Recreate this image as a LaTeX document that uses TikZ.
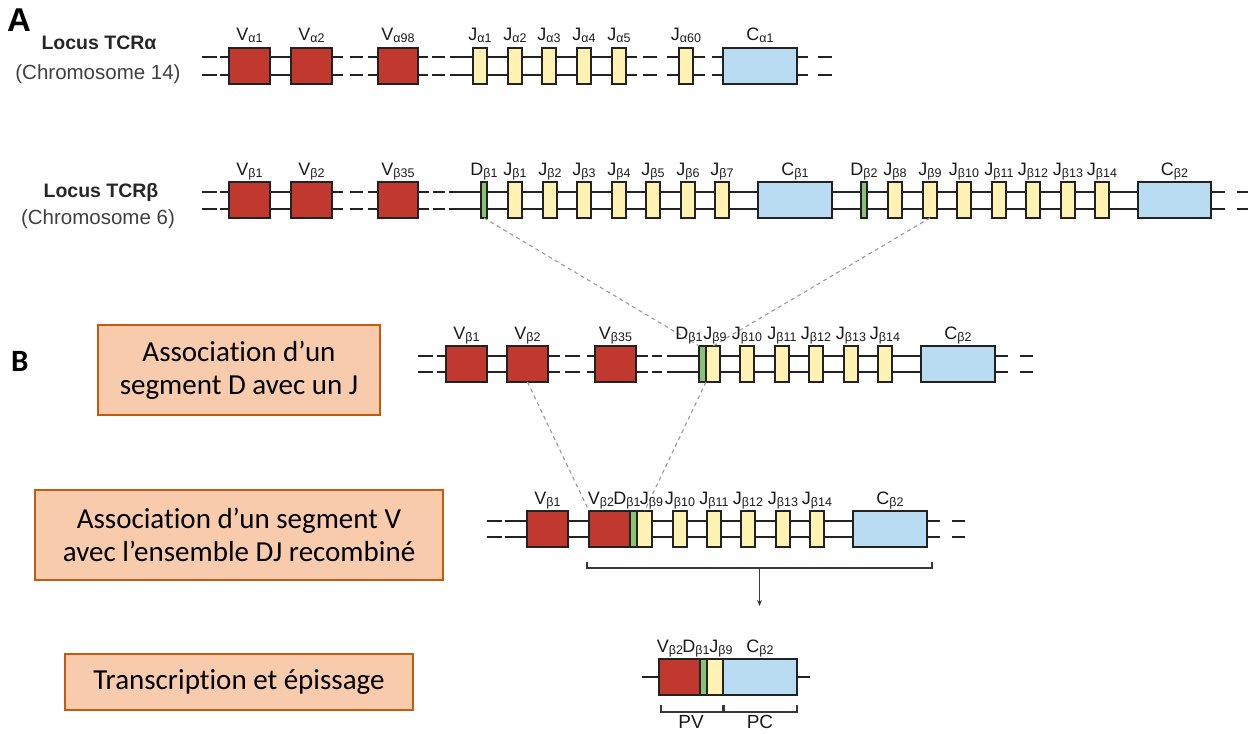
\documentclass[tikz,border=0pt]{standalone}
\usepackage{fontspec}
\setmainfont{Liberation Sans}
\newfontfamily\calibri[Ligatures=NoCommon]{Carlito}
\newfontfamily\arialf{Liberation Sans}
\usetikzlibrary{arrows.meta}
\definecolor{gred}{HTML}{C1382F}
\definecolor{gyel}{HTML}{FFF2B2}
\definecolor{gblu}{HTML}{B9DCF2}
\definecolor{ggrn}{HTML}{88C27A}
\definecolor{dna}{HTML}{222222}
\definecolor{oboxfill}{HTML}{F8CBAD}
\definecolor{oboxdraw}{HTML}{C55A11}
\definecolor{txt}{HTML}{1A1A1A}
\newcommand\subf{\fontsize{12.5}{13}\selectfont}
\newcommand\gb[6]{\node[gene,#6,minimum width={(#3)-(#2)},minimum height={(#5)-(#4)}] (#1) at ({((#2)+(#3))/2},{((#4)+(#5))/2}) {};}
\newcommand\gl[5]{\node[glab] (#1) at (#2,#3) {#4\raisebox{-2pt}{\subf #5}};}
\newcommand\seg[4]{\draw[dnaline] (#1,#3) -- (#2,#3) (#1,#4) -- (#2,#4);}
\begin{document}
\begin{tikzpicture}[x=1pt,y=-1pt,
  gene/.style={draw=dna,line width=1.2pt,inner sep=0pt,outer sep=0pt},
  red/.style={fill=gred},
  yel/.style={fill=gyel},
  blu/.style={fill=gblu},
  grn/.style={fill=ggrn},
  glab/.style={anchor=base,inner sep=0pt,text=txt,font=\fontsize{18}{20}\selectfont},
  dnaline/.style={draw=dna,line width=2.7pt},
  conn/.style={draw=gray!80,line width=1.1pt,dash pattern=on 4pt off 3.5pt},
  obox/.style={draw=oboxdraw,line width=1.8pt,fill=oboxfill,align=center,inner sep=0pt,
    font=\calibri\fontsize{29}{33}\selectfont},
  title/.style={anchor=base,inner sep=0pt,text=txt},
  brk/.style={draw=dna!90,line width=1.1pt}
]
\useasboundingbox (0,0) rectangle (1260,733);

% ---------- DNA lines ----------
% row A
\seg{202}{217}{57}{75}\seg{220}{343}{57}{75}\seg{350}{363}{57}{75}\seg{368}{428}{57}{75}
\seg{432}{445}{57}{75}\seg{450}{637}{57}{75}\seg{643}{657}{57}{75}\seg{667}{705}{57}{75}
\seg{712}{808}{57}{75}\seg{818}{832}{57}{75}
% row beta
\seg{202}{217}{192}{209}\seg{220}{343}{192}{209}\seg{350}{363}{192}{209}\seg{368}{429}{192}{209}
\seg{433}{445}{192}{209}\seg{449}{1225}{192}{209}\seg{1237}{1248}{192}{209}
% middle row
\seg{418}{433}{356}{372}\seg{437}{560}{356}{372}\seg{565}{580}{356}{372}\seg{587}{648}{356}{372}
\seg{652}{662}{356}{372}\seg{667}{1008}{356}{372}\seg{1020}{1033}{356}{372}
% bottom row
\seg{487}{502}{521}{537}\seg{505}{940}{521}{537}\seg{952}{965}{521}{537}
% final
\draw[dnaline] (642,677) -- (810,677);

% ---------- genes row A ----------
\gb{aV1}{229}{270}{48}{84}{red}\gb{aV2}{291}{332}{48}{84}{red}\gb{aV98}{378}{418}{48}{84}{red}
\gb{aJ1}{473}{487}{48}{84}{yel}\gb{aJ2}{508}{522}{48}{84}{yel}\gb{aJ3}{542}{556}{48}{84}{yel}
\gb{aJ4}{577}{591}{48}{84}{yel}\gb{aJ5}{612}{626}{48}{84}{yel}\gb{aJ60}{679}{693}{48}{84}{yel}
\gb{aC1}{723}{797}{48}{84}{blu}
% ---------- genes row beta ----------
\gb{bV1}{229}{270}{182}{218}{red}\gb{bV2}{291}{332}{182}{218}{red}\gb{bV35}{378}{418}{182}{218}{red}
\gb{bD1}{481}{487}{182}{218}{grn}
\gb{bJ1}{508}{522}{182}{218}{yel}\gb{bJ2}{543}{557}{182}{218}{yel}\gb{bJ3}{577}{591}{182}{218}{yel}
\gb{bJ4}{612}{626}{182}{218}{yel}\gb{bJ5}{646}{660}{182}{218}{yel}\gb{bJ6}{681}{695}{182}{218}{yel}
\gb{bJ7}{715}{729}{182}{218}{yel}
\gb{bC1}{758}{832}{182}{218}{blu}
\gb{bD2}{861}{867}{182}{218}{grn}
\gb{bJ8}{888}{902}{182}{218}{yel}\gb{bJ9}{923}{937}{182}{218}{yel}\gb{bJ10}{957}{971}{182}{218}{yel}
\gb{bJ11}{992}{1006}{182}{218}{yel}\gb{bJ12}{1026}{1040}{182}{218}{yel}\gb{bJ13}{1061}{1075}{182}{218}{yel}
\gb{bJ14}{1095}{1109}{182}{218}{yel}
\gb{bC2}{1138}{1211}{182}{218}{blu}
% ---------- middle row ----------
\gb{mV1}{446}{487}{346}{382}{red}\gb{mV2}{507}{548}{346}{382}{red}\gb{mV35}{595}{636}{346}{382}{red}
\gb{mD1}{699}{706}{346}{382}{grn}\gb{mJ9}{706}{720}{346}{382}{yel}
\gb{mJ10}{740}{754}{346}{382}{yel}\gb{mJ11}{775}{789}{346}{382}{yel}\gb{mJ12}{809}{823}{346}{382}{yel}
\gb{mJ13}{844}{858}{346}{382}{yel}\gb{mJ14}{878}{892}{346}{382}{yel}
\gb{mC2}{921}{995}{346}{382}{blu}
% ---------- bottom row ----------
\gb{rV1}{527}{568}{511}{547}{red}\gb{rV2}{589}{630}{511}{547}{red}
\gb{rD1}{630}{637}{511}{547}{grn}\gb{rJ9}{637}{652}{511}{547}{yel}
\gb{rJ10}{673}{687}{511}{547}{yel}\gb{rJ11}{707}{721}{511}{547}{yel}\gb{rJ12}{741}{755}{511}{547}{yel}
\gb{rJ13}{776}{790}{511}{547}{yel}\gb{rJ14}{810}{824}{511}{547}{yel}
\gb{rC2}{853}{927}{511}{547}{blu}
% ---------- final transcript ----------
\gb{fV}{659}{700}{659}{695}{red}\gb{fD}{700}{707}{659}{695}{grn}
\gb{fJ}{707}{723}{659}{695}{yel}\gb{fC}{723}{797}{659}{695}{blu}

% ---------- dashed connectors ----------
\draw[conn] (bD1.south) -- (mD1.north west);
\draw[conn] (bJ9.south) -- (mJ9.north);
\draw[conn] (mV2.south) -- (rV2.north west);
\draw[conn] (mD1.south east) -- (rJ9.north);

% ---------- labels row A ----------
\gl{laV1}{249.5}{41}{V}{α1}\gl{laV2}{311.5}{41}{V}{α2}\gl{laV98}{398}{41}{V}{α98}
\gl{laJ1}{480}{41}{J}{α1}\gl{laJ2}{515}{41}{J}{α2}\gl{laJ3}{549}{41}{J}{α3}
\gl{laJ4}{584}{41}{J}{α4}\gl{laJ5}{619}{41}{J}{α5}\gl{laJ60}{686}{41}{J}{α60}
\gl{laC1}{760}{41}{C}{α1}
% ---------- labels row beta ----------
\gl{lbV1}{249.5}{175}{V}{β1}\gl{lbV2}{311.5}{175}{V}{β2}\gl{lbV35}{398}{175}{V}{β35}
\gl{lbD1}{484}{175}{D}{β1}
\gl{lbJ1}{515}{175}{J}{β1}\gl{lbJ2}{550}{175}{J}{β2}\gl{lbJ3}{584}{175}{J}{β3}
\gl{lbJ4}{619}{175}{J}{β4}\gl{lbJ5}{653}{175}{J}{β5}\gl{lbJ6}{688}{175}{J}{β6}
\gl{lbJ7}{722}{175}{J}{β7}\gl{lbC1}{795}{175}{C}{β1}\gl{lbD2}{864}{175}{D}{β2}
\gl{lbJ8}{895}{175}{J}{β8}\gl{lbJ9}{930}{175}{J}{β9}\gl{lbJ10}{964}{175}{J}{β10}
\gl{lbJ11}{999}{175}{J}{β11}\gl{lbJ12}{1033}{175}{J}{β12}\gl{lbJ13}{1068}{175}{J}{β13}
\gl{lbJ14}{1102}{175}{J}{β14}\gl{lbC2}{1174.5}{175}{C}{β2}
% ---------- labels middle ----------
\gl{lmV1}{466.5}{339}{V}{β1}\gl{lmV2}{527.5}{339}{V}{β2}\gl{lmV35}{615.5}{339}{V}{β35}
\gl{lmD1}{689}{339}{D}{β1}\gl{lmJ9}{715}{339}{J}{β9}\gl{lmJ10}{747}{339}{J}{β10}
\gl{lmJ11}{782}{339}{J}{β11}\gl{lmJ12}{816}{339}{J}{β12}\gl{lmJ13}{851}{339}{J}{β13}
\gl{lmJ14}{885}{339}{J}{β14}\gl{lmC2}{958}{339}{C}{β2}
% ---------- labels bottom ----------
\gl{lrV1}{547.5}{504}{V}{β1}\gl{lrV2}{601}{504}{V}{β2}\gl{lrD1}{627}{504}{D}{β1}
\gl{lrJ9}{651.5}{504}{J}{β9}\gl{lrJ10}{680}{504}{J}{β10}\gl{lrJ11}{714}{504}{J}{β11}
\gl{lrJ12}{748}{504}{J}{β12}\gl{lrJ13}{783}{504}{J}{β13}\gl{lrJ14}{817}{504}{J}{β14}
\gl{lrC2}{890}{504}{C}{β2}
% ---------- labels final ----------
\gl{lfV}{670}{652}{V}{β2}\gl{lfD}{696}{652}{D}{β1}\gl{lfJ}{721}{652}{J}{β9}\gl{lfC}{760}{652}{C}{β2}

% ---------- bracket and arrow ----------
\coordinate (brL) at (587,562);
\coordinate (brR) at (932,562);
\coordinate (brMid) at (759.5,568);
\coordinate (arrTip) at (759.5,606);
\draw[brk] (brL) |- (brMid) -| (brR);
\draw[brk,-{Stealth[length=6pt,width=5pt]}] (brMid) -- (arrTip);
% PV / PC brackets
\draw[brk] (fV.south west) ++(2,10) coordinate (pvL) -- ++(0,7) -- (fJ.south east |- 0,712) coordinate (pvR) -- ++(0,-7);
\draw[brk] (fC.south west) ++(1,10) coordinate (pcL) -- ++(0,7) -- (fC.south east |- 0,712) coordinate (pcR) -- ++(0,-7);
\node[title,font=\fontsize{19}{20}\selectfont] (pv) at (691,728) {PV};
\node[title,font=\fontsize{19}{20}\selectfont] (pc) at (760,728) {PC};

% ---------- titles ----------
\node[title,anchor=base west,font=\arialf\bfseries\fontsize{33}{36}\selectfont,text=black] (lA) at (7,32) {A};
\node[title,anchor=base west,font=\calibri\bfseries\fontsize{31}{33}\selectfont,text=black] (lB) at (11,371) {B};
\node[title,font=\bfseries\fontsize{19.5}{22}\selectfont,text=black!85] (tA1) at (99,50) {Locus TCRα};
\node[title,font=\fontsize{20.5}{22}\selectfont,text=black!75] (tA2) at (98,80) {(Chromosome 14)};
\node[title,font=\bfseries\fontsize{19.5}{22}\selectfont,text=black!85] (tB1) at (101,197) {Locus TCRβ};
\node[title,font=\fontsize{20.5}{22}\selectfont,text=black!75] (tB2) at (98,224) {(Chromosome 6)};

% ---------- orange boxes ----------
\node[obox,minimum width=282,minimum height=90] (ob1) at (239,370) {Association d’un\\segment D avec un J};
\node[obox,minimum width=408,minimum height=90] (ob2) at (239,535) {Association d’un segment V\\avec l’ensemble DJ recombiné};
\node[obox,minimum width=348,minimum height=56] (ob3) at (239,682) {Transcription et épissage};
\end{tikzpicture}
\end{document}
